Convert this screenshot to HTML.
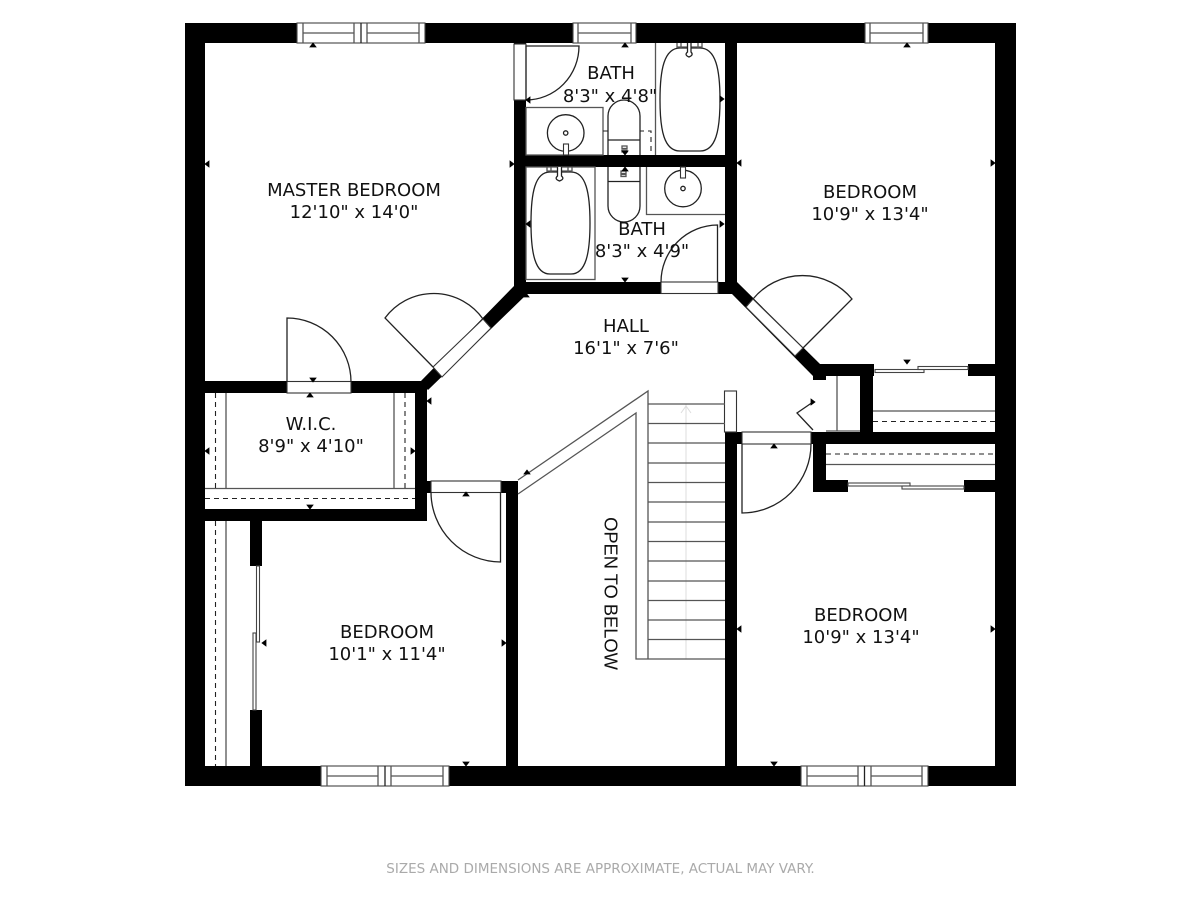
<!DOCTYPE html>
<html><head><meta charset="utf-8"><style>
html,body{margin:0;padding:0;background:#fff}
svg{display:block}
text{font-family:"DejaVu Sans",sans-serif;font-size:18px;fill:#111;text-anchor:middle}
.l{fill:none;stroke:#222;stroke-width:1.3}
.g{fill:none;stroke:#555;stroke-width:1.3}
.d{fill:none;stroke:#222;stroke-width:1.1;stroke-dasharray:5 4}
.f{fill:#fff;stroke:#333;stroke-width:1.1}
.w{fill:#fff;stroke:#444;stroke-width:1.1}
</style></head><body>
<svg xmlns="http://www.w3.org/2000/svg" width="1200" height="900" viewBox="0 0 1200 900">
<rect width="1200" height="900" fill="#fff"/>
<g fill="#000">
<rect x="185" y="23" width="831" height="20"/>
<rect x="185" y="766" width="831" height="20"/>
<rect x="185" y="23" width="20" height="763"/>
<rect x="995" y="23" width="21" height="763"/>
<rect x="514" y="43" width="12" height="244"/>
<rect x="725" y="43" width="12" height="240"/>
<rect x="514" y="155" width="223" height="12"/>
<rect x="526" y="282" width="206" height="12"/>
<polygon points="514,286 526,282 526,295 428,390 420,382"/>
<polygon points="737,282 820,364 826,376 813,376 732,294 725,282"/>
<rect x="205" y="381" width="222" height="12"/>
<rect x="415" y="381" width="12" height="140"/>
<rect x="205" y="509" width="222" height="12"/>
<rect x="250" y="521" width="12" height="45"/>
<rect x="250" y="710" width="12" height="56"/>
<rect x="427" y="481" width="91" height="12"/>
<rect x="506" y="481" width="12" height="285"/>
<rect x="725" y="432" width="12" height="334"/>
<rect x="725" y="432" width="17" height="12"/>
<rect x="811" y="432" width="184" height="12"/>
<rect x="813" y="432" width="13" height="60"/>
<rect x="813" y="480" width="35" height="12"/>
<rect x="964" y="480" width="31" height="12"/>
<rect x="815" y="364" width="59" height="12"/>
<rect x="813" y="368" width="13" height="12"/>
<rect x="860" y="364" width="13" height="68"/>
<rect x="968" y="364" width="27" height="12"/>
</g>
<!-- windows -->
<g>
<rect class="w" x="297" y="23" width="128" height="20"/>
<path class="g" d="M303 23V43M354 23V43M367 23V43M419 23V43M303 33H354M367 33H419"/><path class="l" d="M361 23V43"/>
<rect class="w" x="321" y="766" width="128" height="20"/>
<path class="g" d="M327 766V786M378 766V786M391 766V786M443 766V786M327 776H378M391 776H443"/><path class="l" d="M385 766V786"/>
<rect class="w" x="801" y="766" width="127" height="20"/>
<path class="g" d="M807 766V786M858 766V786M871 766V786M922 766V786M807 776H858M871 776H922"/><path class="l" d="M864.500 766V786"/>
<rect class="w" x="573" y="23" width="63" height="20"/>
<path class="g" d="M578 23V43M631 23V43M578 33H631"/>
<rect class="w" x="865" y="23" width="63" height="20"/>
<path class="g" d="M870 23V43M923 23V43M870 33H923"/>
</g>
<!-- door frames -->
<rect class="f" x="514" y="44" width="12" height="56"/>
<rect class="f" x="661" y="282" width="57" height="11.500"/>
<rect class="f" x="287" y="381.500" width="64" height="11.500"/>
<rect class="f" x="431" y="481" width="70" height="11.500"/>
<rect class="f" x="742" y="432" width="69" height="12"/>
<polygon class="f" points="433,367 483,319 491,328 442,377"/>
<polygon class="f" points="753,299 803,348 795,356 746,307"/>
<!-- door leaves -->
<path class="l" d="M526 100V46H579A53 54 0 0 1 526 100"/>
<path class="l" d="M717.500 282V225A57 57 0 0 0 661 282"/>
<path class="l" d="M287 382V318A64 64 0 0 1 351 382"/>
<path class="l" d="M500.500 492V562A70 70 0 0 1 431 492"/>
<path class="l" d="M742 444V513A69 69 0 0 0 811 444"/>
<path class="l" d="M433 367L385 318A60.500 60.500 0 0 1 483 319"/>
<path class="l" d="M803 348L852 299A64 64 0 0 0 753 299"/>
<path class="l" d="M813 402L797 413L813 430"/>
<!-- WIC & closets -->
<path class="g" d="M226 393V488M394 393V488M205 488.500H415M226 521V766"/>
<path class="d" d="M215.500 393V488M405 393V488M205 498.500H415M215.500 521V766"/>
<path class="g" d="M873 411H995M826 464.500H995M837 376V431M826 431H860"/>
<path class="d" d="M873 421.500H995M826 454H995"/>
<g>
<rect class="w" x="875" y="369.500" width="49" height="3"/>
<rect class="w" x="918" y="366.500" width="50" height="3"/>
<rect class="w" x="848" y="483" width="62" height="3"/>
<rect class="w" x="902" y="486" width="62" height="3"/>
<rect class="w" x="256.500" y="566" width="3" height="76"/>
<rect class="w" x="253" y="633" width="3" height="77"/>
</g>
<!-- stairs -->
<path class="g" d="M518 480L648 391V659M518 494L636 413V659H648"/>
<rect class="f" x="724.500" y="391" width="12" height="41"/>
<path d="M686 404V659M681 413L686 406L691 413" fill="none" stroke="#ddd" stroke-width="1"/>
<path class="g" d="M648 404H725M648 423.500H725M648 443H725M648 463H725M648 482.500H725M648 502H725M648 522H725M648 541.500H725M648 561H725M648 581H725M648 600.500H725M648 620H725M648 639.500H725M648 659H725"/>
<!-- bath upper -->
<rect class="g" x="526" y="107.500" width="77" height="47.500"/>
<circle class="l" cx="565.700" cy="133" r="18.300"/>
<circle class="l" cx="565.700" cy="133" r="2.200" stroke-width="1.800"/>
<rect class="f" x="563.500" y="144" width="5" height="11"/>
<path class="g" d="M655.500 43V155"/>
<path class="d" d="M603 131H651V155"/>
<path class="l" d="M660 100C660 70 664 48 680 48H700C716 48 720 70 720 100C720 130 716 151 700 151H680C664 151 660 130 660 100Z" style="fill:#fff"/>
<path class="g" d="M677 43V48M681 43V48M698 43V48M702 43V48M677 47H702"/>
<path class="l" d="M687.500 43V52Q684 55 689 57Q694 55 691 52V43" style="fill:#fff"/>
<path class="l" d="M608 155V116A16 16 0 0 1 640 116V155M608 140H640" style="fill:#fff"/>
<rect class="g" x="622" y="146" width="5" height="2.500"/><rect class="g" x="622" y="150" width="5" height="2"/>
<!-- bath lower -->
<rect class="g" x="526" y="167" width="69" height="112.500"/>
<path class="l" d="M531 223C531 193 535 172 550 172H571C586 172 590 193 590 223C590 253 586 274 571 274H550C535 274 531 253 531 223Z" style="fill:#fff"/>
<path class="g" d="M547 167V172M551 167V172M568 167V172M572 167V172M547 171H572"/>
<path class="l" d="M557.500 167V176Q554 179 559.500 181Q565 179 561.500 176V167" style="fill:#fff"/>
<path class="l" d="M608 167V206A16 16 0 0 0 640 206V167M608 181.500H640" style="fill:#fff"/>
<rect class="g" x="621" y="171" width="5" height="2.500"/><rect class="g" x="621" y="174.500" width="5" height="2"/>
<path class="g" d="M646.500 167V214.500H725"/>
<circle class="l" cx="683" cy="188.500" r="18.300"/>
<circle class="l" cx="683" cy="188.500" r="2.200" stroke-width="1.800"/>
<rect class="f" x="680.500" y="167" width="5" height="11"/>
<!-- markers -->
<g fill="#000" stroke="#000" stroke-width="0.8">
<path d="M310 47h6l-3-4zM622 47h6l-3-4zM904 47h6l-3-4zM307 397h6l-3-4zM622 171h6l-3-4zM771 448h6l-3-4zM463 496h6l-3-4z"/>
<path d="M310 378h6l-3 4zM307 505h6l-3 4zM622 151h6l-3 4zM622 278h6l-3 4zM904 360h6l-3 4zM463 762h6l-3 4zM771 762h6l-3 4z"/>
<path d="M209 161v6l-4-3zM209 448v6l-4-3zM530 97v6l-4-3zM530 221v6l-4-3zM741 160v6l-4-3zM741 626v6l-4-3zM431 398v6l-4-3z"/>
<path d="M510 161v6l4-3zM411 448v6l4-3zM720 96v6l4-3zM720 221v6l4-3zM991 160v6l4-3zM991 626v6l4-3zM502 640v6l4-3zM811 399v6l4-3z"/>
<path d="M266 640v6l-4-3z"/>
<path d="M523 297h6l-3-4zM524 474h6l-3-4z"/>
</g>
<!-- labels -->
<text x="354" y="196">MASTER BEDROOM</text><text x="354" y="218">12'10" x 14'0"</text>
<text x="611" y="79">BATH</text><text x="610" y="102">8'3" x 4'8"</text>
<text x="642" y="235">BATH</text><text x="642" y="257">8'3" x 4'9"</text>
<text x="870" y="198">BEDROOM</text><text x="870" y="220">10'9" x 13'4"</text>
<text x="626" y="332">HALL</text><text x="626" y="354">16'1" x 7'6"</text>
<text x="311" y="430">W.I.C.</text><text x="311" y="452">8'9" x 4'10"</text>
<text x="387" y="638">BEDROOM</text><text x="387" y="660">10'1" x 11'4"</text>
<text x="861" y="621">BEDROOM</text><text x="861" y="643">10'9" x 13'4"</text>
<text transform="translate(604.500,593.500) rotate(90)" style="font-family:'Liberation Sans',sans-serif;font-size:18.300px">OPEN TO BELOW</text>
<text x="600.500" y="873" style="font-size:13.500px;fill:#aaa">SIZES AND DIMENSIONS ARE APPROXIMATE, ACTUAL MAY VARY.</text>
</svg>
</body></html>
